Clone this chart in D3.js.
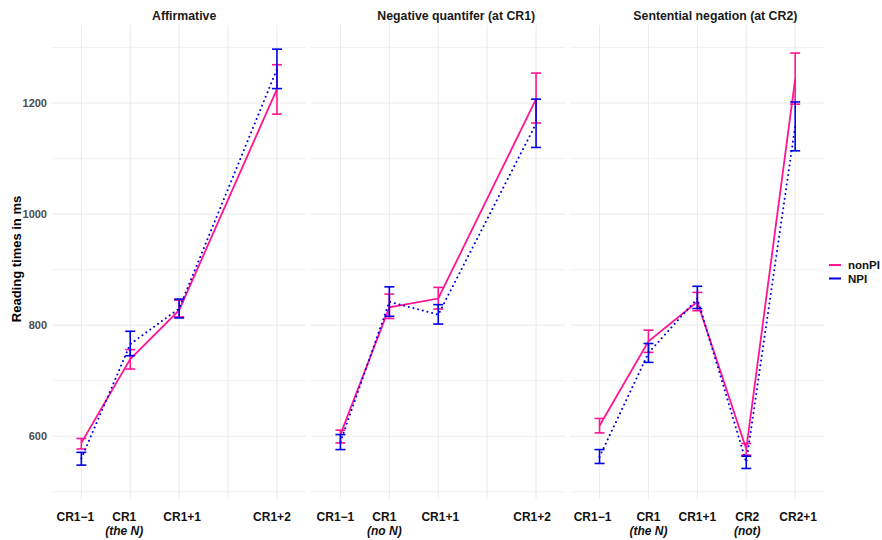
<!DOCTYPE html>
<html>
<head>
<meta charset="utf-8">
<script src="https://cdn.jsdelivr.net/npm/d3@7"></script>
<style>
  body { margin: 0; background: #fff; }
  text { font-family: "Liberation Sans", Arial, sans-serif; }
</style>
</head>
<body>
<svg id="chart" width="882" height="540"></svg>
<script>
// panel titles and per-panel x tick labels (first line, second line)
const panelTitles = ['Affirmative', 'Negative quantifer (at CR1)', 'Sentential negation (at CR2)'];
const tickLabels = [
    [['CR1\u22121', ''], ['CR1', '(the N)'], ['CR1+1', ''], ['', ''], ['CR1+2', '']],
    [['CR1\u22121', ''], ['CR1', '(no N)'], ['CR1+1', ''], ['', ''], ['CR1+2', '']],
    [['CR1\u22121', ''], ['CR1', '(the N)'], ['CR1+1', ''], ['CR2', '(not)'], ['CR2+1', '']]
];
// which x slot each region sits in
const slots = [[0, 1, 2, 4], [0, 1, 2, 4], [0, 1, 2, 3, 4]];

// nonPI: means and error bar limits per panel
const nonPIMean = [[588, 739, 827, 1225], [603, 832, 848, 1207], [619, 771, 842, 577, 1243]];
const nonPILow  = [[577, 721, 815, 1180], [588, 812, 829, 1164], [606, 751, 826, 566, 1198]];
const nonPIHigh = [[596, 756, 845, 1269], [611, 856, 868, 1254], [632, 791, 859, 587, 1290]];

// NPI
const npiMean = [[560, 766, 830, 1261], [590, 842, 819, 1163], [563, 750, 848, 553, 1158]];
const npiLow  = [[548, 745, 813, 1226], [576, 816, 802, 1120], [551, 733, 830, 542, 1114]];
const npiHigh = [[571, 789, 847, 1297], [603, 869, 837, 1207], [576, 767, 870, 564, 1202]];

const majorTicks = [600, 800, 1000, 1200];
const minorTicks = [500, 700, 900, 1100, 1300];

const conditions = [
    {name: 'nonPI', color: '#ff1493', dash: null, mean: nonPIMean, low: nonPILow, high: nonPIHigh},
    {name: 'NPI', color: '#0000e6', dash: '0.01,4.8', mean: npiMean, low: npiLow, high: npiHigh}
];

// layout: the labels in the original sit a little off their grid lines
const titleShift = [5, 18, 18];
const labelShift = [[-6, -6, 3, 0, -5], [-5, -5, 2, 0, -4], [-7, 0, 0, 1, 3]];

const svg = d3.select('#chart');

const plotTop = 25, plotBottom = 499;
const panelLeft = 52, panelWidth = 254.3, panelGap = 4.8;

const y = d3.scaleLinear().domain([487, 1340.5]).range([plotBottom, plotTop]);

// y axis title
svg.append('text')
    .attr('transform', 'translate(21,259) rotate(-90)')
    .attr('text-anchor', 'middle')
    .style('font-size', '13px')
    .style('font-weight', 'bold')
    .attr('fill', '#000')
    .text('Reading times in ms');

// y tick labels
svg.append('g')
    .selectAll('text')
    .data(majorTicks)
    .enter().append('text')
    .attr('x', 47)
    .attr('y', d => y(d))
    .attr('dy', '0.35em')
    .attr('text-anchor', 'end')
    .style('font-size', '11px')
    .style('font-weight', 'bold')
    .attr('fill', '#4d4d4d')
    .text(d => d);

panelTitles.forEach((title, p) => {
    const left = panelLeft + p * (panelWidth + panelGap);
    const x = d3.scalePoint().domain([0, 1, 2, 3, 4]).range([left, left + panelWidth]).padding(0.6);
    const g = svg.append('g');

    // grid
    g.selectAll('.minor')
        .data(minorTicks)
        .enter().append('line')
        .attr('x1', left).attr('x2', left + panelWidth)
        .attr('y1', d => y(d)).attr('y2', d => y(d))
        .attr('stroke', '#efefef').attr('stroke-width', 0.8);
    g.selectAll('.major')
        .data(majorTicks)
        .enter().append('line')
        .attr('x1', left).attr('x2', left + panelWidth)
        .attr('y1', d => y(d)).attr('y2', d => y(d))
        .attr('stroke', '#ebebeb').attr('stroke-width', 1);
    g.selectAll('.vgrid')
        .data(x.domain())
        .enter().append('line')
        .attr('x1', d => x(d)).attr('x2', d => x(d))
        .attr('y1', plotTop).attr('y2', plotBottom)
        .attr('stroke', '#ebebeb').attr('stroke-width', 1);

    // strip title
    g.append('text')
        .attr('x', left + panelWidth / 2 + titleShift[p])
        .attr('y', 20)
        .attr('text-anchor', 'middle')
        .style('font-size', '12.3px')
        .style('font-weight', 'bold')
        .attr('fill', '#1a1a1a')
        .text(title);

    // x tick labels
    const ticks = g.selectAll('.tick')
        .data(tickLabels[p])
        .enter().append('g')
        .attr('transform', (d, i) => `translate(${x(i) + labelShift[p][i]},0)`);
    ticks.append('text')
        .attr('y', 521)
        .attr('text-anchor', 'middle')
        .style('font-size', '12px')
        .style('font-weight', 'bold')
        .attr('fill', '#111')
        .text(d => d[0]);
    ticks.append('text')
        .attr('y', 535)
        .attr('text-anchor', 'middle')
        .style('font-size', '12px')
        .style('font-weight', 'bold')
        .style('font-style', 'italic')
        .attr('fill', '#111')
        .text(d => d[1]);

    conditions.forEach(c => {
        const pts = slots[p].map((s, i) => ({
            s: s, mean: c.mean[p][i], low: c.low[p][i], high: c.high[p][i]
        }));

        const bars = g.append('g')
            .attr('stroke', c.color)
            .attr('stroke-width', 1.6)
            .selectAll('g')
            .data(pts)
            .enter().append('g');
        bars.append('line')
            .attr('x1', d => x(d.s)).attr('x2', d => x(d.s))
            .attr('y1', d => y(d.low)).attr('y2', d => y(d.high));
        bars.append('line')
            .attr('x1', d => x(d.s) - 5).attr('x2', d => x(d.s) + 5)
            .attr('y1', d => y(d.low)).attr('y2', d => y(d.low));
        bars.append('line')
            .attr('x1', d => x(d.s) - 5).attr('x2', d => x(d.s) + 5)
            .attr('y1', d => y(d.high)).attr('y2', d => y(d.high));

        g.append('path')
            .datum(pts)
            .attr('fill', 'none')
            .attr('stroke', c.color)
            .attr('stroke-width', c.dash ? 2 : 1.8)
            .attr('stroke-linecap', c.dash ? 'round' : 'butt')
            .attr('stroke-dasharray', c.dash)
            .attr('d', d3.line().x(d => x(d.s)).y(d => y(d.mean)));
    });
});

// legend
const legend = svg.append('g')
    .selectAll('g')
    .data(conditions)
    .enter().append('g')
    .attr('transform', (d, i) => `translate(829,${265 + i * 13.5})`);
legend.append('line')
    .attr('x1', 0).attr('x2', 12)
    .attr('stroke', d => d.color)
    .attr('stroke-width', 2);
legend.append('text')
    .attr('x', 19)
    .attr('dy', '0.35em')
    .style('font-size', '11.5px')
    .style('font-weight', 'bold')
    .attr('fill', '#111')
    .text(d => d.name);
</script>
</body>
</html>
